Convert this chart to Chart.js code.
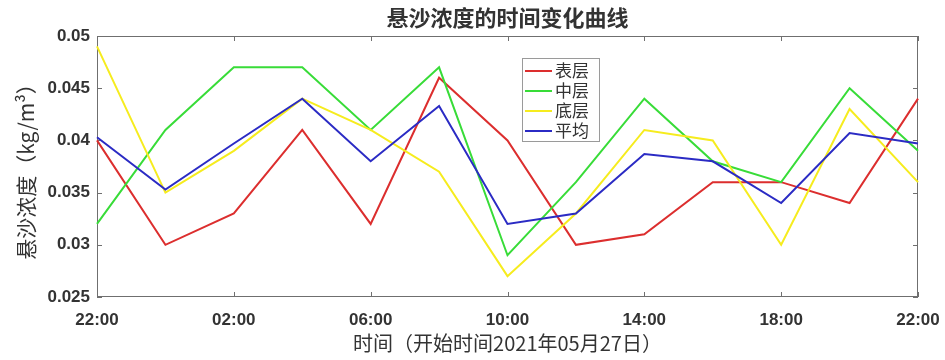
<!DOCTYPE html>
<html lang="zh">
<head>
    <meta charset="UTF-8">
    <title>悬沙浓度的时间变化曲线</title>
    <style>
        body { margin: 0; background: #fff; }
    </style>
</head>
<body>
    <canvas id="ssc_chart" width="945" height="360"></canvas>
</body>
<script src="https://cdn.jsdelivr.net/npm/chart.js@4.4.0/dist/chart.umd.min.js"></script>
<script>
    // 每2小时一个观测点, 从 5月27日 22:00 开始
    const timeLabels = ['22:00', '00:00', '02:00', '04:00', '06:00', '08:00', '10:00',
                        '12:00', '14:00', '16:00', '18:00', '20:00', '22:00'];
    const yTicks = [0.025, 0.03, 0.035, 0.04, 0.045, 0.05];

    const surface = [0.040, 0.030, 0.033, 0.041, 0.032, 0.046, 0.040, 0.030, 0.031, 0.036, 0.036, 0.034, 0.044];
    const middle  = [0.032, 0.041, 0.047, 0.047, 0.041, 0.047, 0.029, 0.036, 0.044, 0.038, 0.036, 0.045, 0.039];
    const bottom  = [0.049, 0.035, 0.039, 0.044, 0.041, 0.037, 0.027, 0.033, 0.041, 0.040, 0.030, 0.043, 0.036];
    const average = [0.0403, 0.0353, 0.0397, 0.0440, 0.0380, 0.0433, 0.0320, 0.0330, 0.0387, 0.0380, 0.0340, 0.0407, 0.0397];

    const CJK = '"Noto Sans CJK SC", sans-serif';
    const NUM = '"Liberation Sans", Arial, sans-serif';
    const axisColor = '#6f6f6f';
    const chartTitle = '悬沙浓度的时间变化曲线';

    // matlab 风格的边框和向内的刻度, 标题居中于绘图区
    const boxPlugin = {
        id: 'box',
        beforeDatasetsDraw(chart) {
            const {ctx, chartArea: a, scales} = chart;
            ctx.save();
            ctx.strokeStyle = axisColor;
            ctx.lineWidth = 1;
            ctx.strokeRect(a.left + 0.5, a.top + 0.5, a.right - a.left - 1, a.bottom - a.top - 1);
            const len = 5;
            ctx.beginPath();
            scales.x.ticks.forEach((t, i) => {
                const px = Math.round(scales.x.getPixelForTick(i)) + 0.5;
                ctx.moveTo(px, a.bottom); ctx.lineTo(px, a.bottom - len);
                ctx.moveTo(px, a.top); ctx.lineTo(px, a.top + len);
            });
            scales.y.ticks.forEach((t, i) => {
                const py = Math.round(scales.y.getPixelForTick(i)) + 0.5;
                ctx.moveTo(a.left, py); ctx.lineTo(a.left + len, py);
                ctx.moveTo(a.right, py); ctx.lineTo(a.right - len, py);
            });
            ctx.stroke();

            ctx.fillStyle = '#333';
            ctx.font = 'bold 22px ' + CJK;
            ctx.textAlign = 'center';
            ctx.textBaseline = 'middle';
            ctx.fillText(chartTitle, (a.left + a.right) / 2, 18);
            ctx.restore();
        }
    };

    // 图例放在图内
    const legendPlugin = {
        id: 'innerLegend',
        afterDatasetsDraw(chart) {
            const ctx = chart.ctx;
            const x0 = 522, y0 = 58, w = 77, h = 83;
            ctx.save();
            ctx.fillStyle = '#fff';
            ctx.fillRect(x0, y0, w, h);
            ctx.strokeStyle = '#9a9a9a';
            ctx.lineWidth = 1;
            ctx.strokeRect(x0 + 0.5, y0 + 0.5, w, h);
            ctx.font = '17px ' + CJK;
            ctx.textBaseline = 'middle';
            chart.data.datasets.forEach((ds, i) => {
                const y = y0 + 13 + i * 20;
                ctx.strokeStyle = ds.borderColor;
                ctx.lineWidth = 2;
                ctx.beginPath();
                ctx.moveTo(x0 + 3, y); ctx.lineTo(x0 + 30, y);
                ctx.stroke();
                ctx.fillStyle = '#333';
                ctx.fillText(ds.label, x0 + 33, y);
            });
            ctx.restore();
        }
    };

    const ctx = document.getElementById('ssc_chart').getContext('2d');

    const mkSet = (label, data, color, order) => ({
        label: label,
        data: data,
        borderColor: color,
        backgroundColor: color,
        borderWidth: 2,
        pointRadius: 0,
        tension: 0,
        order: order
    });

    new Chart(ctx, {
        type: 'line',
        data: {
            labels: timeLabels,
            datasets: [
                mkSet('表层', surface, '#dc2e2e', 4),
                mkSet('中层', middle, '#38dc38', 3),
                mkSet('底层', bottom, '#f6ec1e', 2),
                mkSet('平均', average, '#2b2bc4', 1)
            ]
        },
        options: {
            responsive: false,
            animation: false,
            layout: { padding: { left: 0, right: 27, top: 36, bottom: 0 } },
            plugins: {
                legend: { display: false },
                tooltip: { enabled: false },
                title: { display: false }
            },
            scales: {
                x: {
                    type: 'category',
                    offset: false,
                    grid: { display: false, drawTicks: false },
                    border: { display: false },
                    afterBuildTicks(scale) {
                        scale.ticks = scale.ticks.filter(t => t.value % 2 === 0);
                    },
                    afterFit(scale) {
                        scale.height = 63;
                        scale.paddingLeft = 0;
                        scale.paddingRight = 0;
                    },
                    ticks: {
                        autoSkip: false,
                        maxRotation: 0,
                        padding: 13,
                        color: '#333',
                        font: { family: NUM, size: 17, weight: 'bold' },
                        callback(value) { return timeLabels[value]; }
                    },
                    title: {
                        display: true,
                        text: '时间（开始时间2021年05月27日）',
                        color: '#333',
                        font: { family: CJK, size: 20 },
                        padding: { top: 0, bottom: 5 }
                    }
                },
                y: {
                    min: yTicks[0],
                    max: yTicks[yTicks.length - 1],
                    grid: { display: false, drawTicks: false },
                    border: { display: false },
                    afterBuildTicks(scale) {
                        scale.ticks = yTicks.map(v => ({ value: v }));
                    },
                    afterFit(scale) {
                        scale.width = 97;
                        scale.paddingTop = 0;
                        scale.paddingBottom = 0;
                    },
                    ticks: {
                        padding: 7,
                        color: '#333',
                        font: { family: NUM, size: 17, weight: 'bold' },
                        callback(value) { return String(+value.toFixed(3)); }
                    },
                    title: {
                        display: true,
                        text: '悬沙浓度（kg/m³）',
                        color: '#333',
                        font: { family: CJK, size: 21 },
                        padding: { top: 13, bottom: 0 }
                    }
                }
            }
        },
        plugins: [boxPlugin, legendPlugin]
    });
</script>
</html>
